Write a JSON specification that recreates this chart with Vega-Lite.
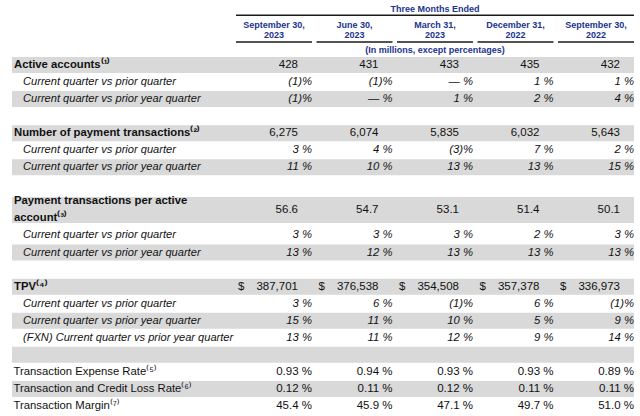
{
  "$schema": "https://vega.github.io/schema/vega-lite/v6.json",
  "width": 622,
  "height": 416,
  "autosize": {"type": "none"},
  "padding": {"left": 12, "right": 6, "top": 0, "bottom": 0},
  "background": "white",
  "config": {"view": {"stroke": null}, "text": {"font": "Liberation Sans", "color": "#111111"}},
  "datasets": {
    "shade": [
      {"row": "active"}, {"row": "active_y"}, {"row": "num"}, {"row": "num_y"},
      {"row": "pay_y"}, {"row": "tpv"}, {"row": "tpv_y"}, {"row": "g4"}, {"row": "tclr"}
    ],
    "periods": [
      {"col": "c1", "label": "September 30,\n2023"},
      {"col": "c2", "label": "June 30,\n2023"},
      {"col": "c3", "label": "March 31,\n2023"},
      {"col": "c4", "label": "December 31,\n2022"},
      {"col": "c5", "label": "September 30,\n2022"}
    ],
    "table": [
      {"row": "active", "label": "Active accounts⁽¹⁾", "level": "main", "c1": "428", "c2": "431", "c3": "433", "c4": "435", "c5": "432"},
      {"row": "active_q", "label": "Current quarter vs prior quarter", "level": "sub", "c1": "(1)%", "c2": "(1)%", "c3": "— %", "c4": "1 %", "c5": "1 %"},
      {"row": "active_y", "label": "Current quarter vs prior year quarter", "level": "sub", "c1": "(1)%", "c2": "— %", "c3": "1 %", "c4": "2 %", "c5": "4 %"},
      {"row": "num", "label": "Number of payment transactions⁽²⁾", "level": "main", "c1": "6,275", "c2": "6,074", "c3": "5,835", "c4": "6,032", "c5": "5,643"},
      {"row": "num_q", "label": "Current quarter vs prior quarter", "level": "sub", "c1": "3 %", "c2": "4 %", "c3": "(3)%", "c4": "7 %", "c5": "2 %"},
      {"row": "num_y", "label": "Current quarter vs prior year quarter", "level": "sub", "c1": "11 %", "c2": "10 %", "c3": "13 %", "c4": "13 %", "c5": "15 %"},
      {"row": "pay_a", "label": "Payment transactions per active", "level": "main", "c1": "56.6", "c2": "54.7", "c3": "53.1", "c4": "51.4", "c5": "50.1"},
      {"row": "pay_b", "label": "account⁽³⁾", "level": "main"},
      {"row": "pay_q", "label": "Current quarter vs prior quarter", "level": "sub", "c1": "3 %", "c2": "3 %", "c3": "3 %", "c4": "2 %", "c5": "3 %"},
      {"row": "pay_y", "label": "Current quarter vs prior year quarter", "level": "sub", "c1": "13 %", "c2": "12 %", "c3": "13 %", "c4": "13 %", "c5": "13 %"},
      {"row": "tpv", "label": "TPV⁽⁴⁾", "level": "main", "c1": "387,701", "c2": "376,538", "c3": "354,508", "c4": "357,378", "c5": "336,973"},
      {"row": "tpv_q", "label": "Current quarter vs prior quarter", "level": "sub", "c1": "3 %", "c2": "6 %", "c3": "(1)%", "c4": "6 %", "c5": "(1)%"},
      {"row": "tpv_y", "label": "Current quarter vs prior year quarter", "level": "sub", "c1": "15 %", "c2": "11 %", "c3": "10 %", "c4": "5 %", "c5": "9 %"},
      {"row": "tpv_fxn", "label": "(FXN) Current quarter vs prior year quarter", "level": "sub", "c1": "13 %", "c2": "11 %", "c3": "12 %", "c4": "9 %", "c5": "14 %"},
      {"row": "ter", "label": "Transaction Expense Rate⁽⁵⁾", "level": "plain", "c1": "0.93 %", "c2": "0.94 %", "c3": "0.93 %", "c4": "0.93 %", "c5": "0.89 %"},
      {"row": "tclr", "label": "Transaction and Credit Loss Rate⁽⁶⁾", "level": "plain", "c1": "0.12 %", "c2": "0.11 %", "c3": "0.12 %", "c4": "0.11 %", "c5": "0.11 %"},
      {"row": "tm", "label": "Transaction Margin⁽⁷⁾", "level": "plain", "c1": "45.4 %", "c2": "45.9 %", "c3": "47.1 %", "c4": "49.7 %", "c5": "51.0 %"}
    ]
  },
  "layer": [
    {
      "data": {"name": "shade"},
      "mark": {"type": "rect", "color": "#d9d9d9", "height": 16},
      "encoding": {
        "y": {"field": "row", "type": "nominal", "axis": null, "scale": {"type": "band", "domain": ["h0","h1","h2","active","active_q","active_y","g1","num","num_q","num_y","g2","pay_a","pay_b","pay_q","pay_y","g3","tpv","tpv_q","tpv_y","tpv_fxn","g4","ter","tclr","tm"], "range": [5.3, 414.5], "paddingInner": 0, "paddingOuter": 0}}
      }
    },
    {
      "data": {"values": [{"row": "pay_a"}]},
      "mark": {"type": "rect", "color": "#d9d9d9", "height": 26, "yOffset": 8.5},
      "encoding": {
        "y": {"field": "row", "type": "nominal", "axis": null, "scale": {"type": "band", "domain": ["h0","h1","h2","active","active_q","active_y","g1","num","num_q","num_y","g2","pay_a","pay_b","pay_q","pay_y","g3","tpv","tpv_q","tpv_y","tpv_fxn","g4","ter","tclr","tm"], "range": [5.3, 414.5], "paddingInner": 0, "paddingOuter": 0}}
      }
    },
    {
      "data": {"values": [{"row": "h0", "from": "c1", "to": "c5"}]},
      "mark": {"type": "rule", "color": "#1a1a1a", "strokeWidth": 1.5, "yOffset": 1.5},
      "encoding": {
        "x": {"field": "from", "type": "nominal", "bandPosition": 0, "axis": null, "scale": {"type": "band", "domain": ["L1","L2","L3","c1","c2","c3","c4","c5","c6"], "range": [-17.5, 702.5], "paddingInner": 0.0559, "paddingOuter": 0}},
        "x2": {"field": "to", "bandPosition": 1},
        "y": {"field": "row", "type": "nominal", "axis": null, "scale": {"type": "band", "domain": ["h0","h1","h2","active","active_q","active_y","g1","num","num_q","num_y","g2","pay_a","pay_b","pay_q","pay_y","g3","tpv","tpv_q","tpv_y","tpv_fxn","g4","ter","tclr","tm"], "range": [5.3, 414.5], "paddingInner": 0, "paddingOuter": 0}}
      }
    },
    {
      "data": {"name": "periods"},
      "transform": [{"calculate": "'h1'", "as": "row"}],
      "mark": {"type": "rule", "color": "#1a1a1a", "strokeWidth": 1.5, "yOffset": 11},
      "encoding": {
        "x": {"field": "col", "type": "nominal", "bandPosition": 0, "axis": null, "scale": {"type": "band", "domain": ["L1","L2","L3","c1","c2","c3","c4","c5","c6"], "range": [-17.5, 702.5], "paddingInner": 0.0559, "paddingOuter": 0}},
        "x2": {"field": "col", "bandPosition": 1},
        "y": {"field": "row", "type": "nominal", "axis": null, "scale": {"type": "band", "domain": ["h0","h1","h2","active","active_q","active_y","g1","num","num_q","num_y","g2","pay_a","pay_b","pay_q","pay_y","g3","tpv","tpv_q","tpv_y","tpv_fxn","g4","ter","tclr","tm"], "range": [5.3, 414.5], "paddingInner": 0, "paddingOuter": 0}}
      }
    },
    {
      "data": {"values": [{"row": "h0", "col": "c3", "text": "Three Months Ended"}]},
      "mark": {"type": "text", "fontSize": 9, "fontWeight": "bold", "color": "#1b3390", "align": "center", "baseline": "middle", "yOffset": -4.5},
      "encoding": {
        "x": {"field": "col", "type": "nominal", "bandPosition": 0.5, "axis": null, "scale": {"type": "band", "domain": ["L1","L2","L3","c1","c2","c3","c4","c5","c6"], "range": [-17.5, 702.5], "paddingInner": 0.0559, "paddingOuter": 0}},
        "y": {"field": "row", "type": "nominal", "axis": null, "scale": {"type": "band", "domain": ["h0","h1","h2","active","active_q","active_y","g1","num","num_q","num_y","g2","pay_a","pay_b","pay_q","pay_y","g3","tpv","tpv_q","tpv_y","tpv_fxn","g4","ter","tclr","tm"], "range": [5.3, 414.5], "paddingInner": 0, "paddingOuter": 0}},
        "text": {"field": "text"}
      }
    },
    {
      "data": {"values": [{"row": "h2", "col": "c3", "text": "(In millions, except percentages)"}]},
      "mark": {"type": "text", "fontSize": 9, "fontWeight": "bold", "color": "#1b3390", "align": "center", "baseline": "middle", "yOffset": 2.5},
      "encoding": {
        "x": {"field": "col", "type": "nominal", "bandPosition": 0.5, "axis": null, "scale": {"type": "band", "domain": ["L1","L2","L3","c1","c2","c3","c4","c5","c6"], "range": [-17.5, 702.5], "paddingInner": 0.0559, "paddingOuter": 0}},
        "y": {"field": "row", "type": "nominal", "axis": null, "scale": {"type": "band", "domain": ["h0","h1","h2","active","active_q","active_y","g1","num","num_q","num_y","g2","pay_a","pay_b","pay_q","pay_y","g3","tpv","tpv_q","tpv_y","tpv_fxn","g4","ter","tclr","tm"], "range": [5.3, 414.5], "paddingInner": 0, "paddingOuter": 0}},
        "text": {"field": "text"}
      }
    },
    {
      "data": {"name": "periods"},
      "transform": [{"calculate": "'h1'", "as": "row"}],
      "mark": {"type": "text", "fontSize": 9, "fontWeight": "bold", "color": "#1b3390", "align": "center", "baseline": "middle", "lineBreak": "\n", "lineHeight": 10, "yOffset": -5.5},
      "encoding": {
        "x": {"field": "col", "type": "nominal", "bandPosition": 0.5, "axis": null, "scale": {"type": "band", "domain": ["L1","L2","L3","c1","c2","c3","c4","c5","c6"], "range": [-17.5, 702.5], "paddingInner": 0.0559, "paddingOuter": 0}},
        "y": {"field": "row", "type": "nominal", "axis": null, "scale": {"type": "band", "domain": ["h0","h1","h2","active","active_q","active_y","g1","num","num_q","num_y","g2","pay_a","pay_b","pay_q","pay_y","g3","tpv","tpv_q","tpv_y","tpv_fxn","g4","ter","tclr","tm"], "range": [5.3, 414.5], "paddingInner": 0, "paddingOuter": 0}},
        "text": {"field": "label"}
      }
    },
    {
      "data": {"name": "table"},
      "transform": [{"filter": "datum.level === 'main'"}, {"calculate": "'L1'", "as": "col"}],
      "mark": {"type": "text", "fontSize": 11.3, "fontWeight": "bold", "align": "left", "baseline": "middle", "dx": 19.5},
      "encoding": {
        "x": {"field": "col", "type": "nominal", "bandPosition": 0, "axis": null, "scale": {"type": "band", "domain": ["L1","L2","L3","c1","c2","c3","c4","c5","c6"], "range": [-17.5, 702.5], "paddingInner": 0.0559, "paddingOuter": 0}},
        "y": {"field": "row", "type": "nominal", "axis": null, "scale": {"type": "band", "domain": ["h0","h1","h2","active","active_q","active_y","g1","num","num_q","num_y","g2","pay_a","pay_b","pay_q","pay_y","g3","tpv","tpv_q","tpv_y","tpv_fxn","g4","ter","tclr","tm"], "range": [5.3, 414.5], "paddingInner": 0, "paddingOuter": 0}},
        "text": {"field": "label"}
      }
    },
    {
      "data": {"name": "table"},
      "transform": [{"filter": "datum.level === 'sub'"}, {"calculate": "'L1'", "as": "col"}],
      "mark": {"type": "text", "fontSize": 11.1, "fontStyle": "italic", "align": "left", "baseline": "middle", "dx": 28.5},
      "encoding": {
        "x": {"field": "col", "type": "nominal", "bandPosition": 0, "axis": null, "scale": {"type": "band", "domain": ["L1","L2","L3","c1","c2","c3","c4","c5","c6"], "range": [-17.5, 702.5], "paddingInner": 0.0559, "paddingOuter": 0}},
        "y": {"field": "row", "type": "nominal", "axis": null, "scale": {"type": "band", "domain": ["h0","h1","h2","active","active_q","active_y","g1","num","num_q","num_y","g2","pay_a","pay_b","pay_q","pay_y","g3","tpv","tpv_q","tpv_y","tpv_fxn","g4","ter","tclr","tm"], "range": [5.3, 414.5], "paddingInner": 0, "paddingOuter": 0}},
        "text": {"field": "label"}
      }
    },
    {
      "data": {"name": "table"},
      "transform": [{"filter": "datum.level === 'plain'"}, {"calculate": "'L1'", "as": "col"}],
      "mark": {"type": "text", "fontSize": 11.3, "align": "left", "baseline": "middle", "dx": 19},
      "encoding": {
        "x": {"field": "col", "type": "nominal", "bandPosition": 0, "axis": null, "scale": {"type": "band", "domain": ["L1","L2","L3","c1","c2","c3","c4","c5","c6"], "range": [-17.5, 702.5], "paddingInner": 0.0559, "paddingOuter": 0}},
        "y": {"field": "row", "type": "nominal", "axis": null, "scale": {"type": "band", "domain": ["h0","h1","h2","active","active_q","active_y","g1","num","num_q","num_y","g2","pay_a","pay_b","pay_q","pay_y","g3","tpv","tpv_q","tpv_y","tpv_fxn","g4","ter","tclr","tm"], "range": [5.3, 414.5], "paddingInner": 0, "paddingOuter": 0}},
        "text": {"field": "label"}
      }
    },
    {
      "data": {"name": "table"},
      "transform": [
        {"fold": ["c1", "c2", "c3", "c4", "c5"], "as": ["col", "value"]},
        {"filter": "datum.value != null && datum.level === 'main' && datum.row !== 'pay_a'"}
      ],
      "mark": {"type": "text", "fontSize": 11.5, "align": "right", "baseline": "middle", "dx": 62},
      "encoding": {
        "x": {"field": "col", "type": "nominal", "bandPosition": 0, "axis": null, "scale": {"type": "band", "domain": ["L1","L2","L3","c1","c2","c3","c4","c5","c6"], "range": [-17.5, 702.5], "paddingInner": 0.0559, "paddingOuter": 0}},
        "y": {"field": "row", "type": "nominal", "axis": null, "scale": {"type": "band", "domain": ["h0","h1","h2","active","active_q","active_y","g1","num","num_q","num_y","g2","pay_a","pay_b","pay_q","pay_y","g3","tpv","tpv_q","tpv_y","tpv_fxn","g4","ter","tclr","tm"], "range": [5.3, 414.5], "paddingInner": 0, "paddingOuter": 0}},
        "text": {"field": "value"}
      }
    },
    {
      "data": {"name": "table"},
      "transform": [
        {"fold": ["c1", "c2", "c3", "c4", "c5"], "as": ["col", "value"]},
        {"filter": "datum.value != null && datum.row === 'pay_a'"}
      ],
      "mark": {"type": "text", "fontSize": 11.5, "align": "right", "baseline": "middle", "dx": 62, "yOffset": 8.5},
      "encoding": {
        "x": {"field": "col", "type": "nominal", "bandPosition": 0, "axis": null, "scale": {"type": "band", "domain": ["L1","L2","L3","c1","c2","c3","c4","c5","c6"], "range": [-17.5, 702.5], "paddingInner": 0.0559, "paddingOuter": 0}},
        "y": {"field": "row", "type": "nominal", "axis": null, "scale": {"type": "band", "domain": ["h0","h1","h2","active","active_q","active_y","g1","num","num_q","num_y","g2","pay_a","pay_b","pay_q","pay_y","g3","tpv","tpv_q","tpv_y","tpv_fxn","g4","ter","tclr","tm"], "range": [5.3, 414.5], "paddingInner": 0, "paddingOuter": 0}},
        "text": {"field": "value"}
      }
    },
    {
      "data": {"name": "table"},
      "transform": [
        {"fold": ["c1", "c2", "c3", "c4", "c5"], "as": ["col", "value"]},
        {"filter": "datum.value != null && datum.level === 'sub'"}
      ],
      "mark": {"type": "text", "fontSize": 11.3, "fontStyle": "italic", "align": "right", "baseline": "middle"},
      "encoding": {
        "x": {"field": "col", "type": "nominal", "bandPosition": 1, "axis": null, "scale": {"type": "band", "domain": ["L1","L2","L3","c1","c2","c3","c4","c5","c6"], "range": [-17.5, 702.5], "paddingInner": 0.0559, "paddingOuter": 0}},
        "y": {"field": "row", "type": "nominal", "axis": null, "scale": {"type": "band", "domain": ["h0","h1","h2","active","active_q","active_y","g1","num","num_q","num_y","g2","pay_a","pay_b","pay_q","pay_y","g3","tpv","tpv_q","tpv_y","tpv_fxn","g4","ter","tclr","tm"], "range": [5.3, 414.5], "paddingInner": 0, "paddingOuter": 0}},
        "text": {"field": "value"}
      }
    },
    {
      "data": {"name": "table"},
      "transform": [
        {"fold": ["c1", "c2", "c3", "c4", "c5"], "as": ["col", "value"]},
        {"filter": "datum.value != null && datum.level === 'plain'"}
      ],
      "mark": {"type": "text", "fontSize": 11.5, "align": "right", "baseline": "middle"},
      "encoding": {
        "x": {"field": "col", "type": "nominal", "bandPosition": 1, "axis": null, "scale": {"type": "band", "domain": ["L1","L2","L3","c1","c2","c3","c4","c5","c6"], "range": [-17.5, 702.5], "paddingInner": 0.0559, "paddingOuter": 0}},
        "y": {"field": "row", "type": "nominal", "axis": null, "scale": {"type": "band", "domain": ["h0","h1","h2","active","active_q","active_y","g1","num","num_q","num_y","g2","pay_a","pay_b","pay_q","pay_y","g3","tpv","tpv_q","tpv_y","tpv_fxn","g4","ter","tclr","tm"], "range": [5.3, 414.5], "paddingInner": 0, "paddingOuter": 0}},
        "text": {"field": "value"}
      }
    },
    {
      "data": {"name": "table"},
      "transform": [
        {"filter": "datum.row === 'tpv'"},
        {"fold": ["c1", "c2", "c3", "c4", "c5"], "as": ["col", "value"]}
      ],
      "mark": {"type": "text", "fontSize": 11.5, "align": "left", "baseline": "middle", "dx": 2, "text": "$"},
      "encoding": {
        "x": {"field": "col", "type": "nominal", "bandPosition": 0, "axis": null, "scale": {"type": "band", "domain": ["L1","L2","L3","c1","c2","c3","c4","c5","c6"], "range": [-17.5, 702.5], "paddingInner": 0.0559, "paddingOuter": 0}},
        "y": {"field": "row", "type": "nominal", "axis": null, "scale": {"type": "band", "domain": ["h0","h1","h2","active","active_q","active_y","g1","num","num_q","num_y","g2","pay_a","pay_b","pay_q","pay_y","g3","tpv","tpv_q","tpv_y","tpv_fxn","g4","ter","tclr","tm"], "range": [5.3, 414.5], "paddingInner": 0, "paddingOuter": 0}}
      }
    }
  ]
}
